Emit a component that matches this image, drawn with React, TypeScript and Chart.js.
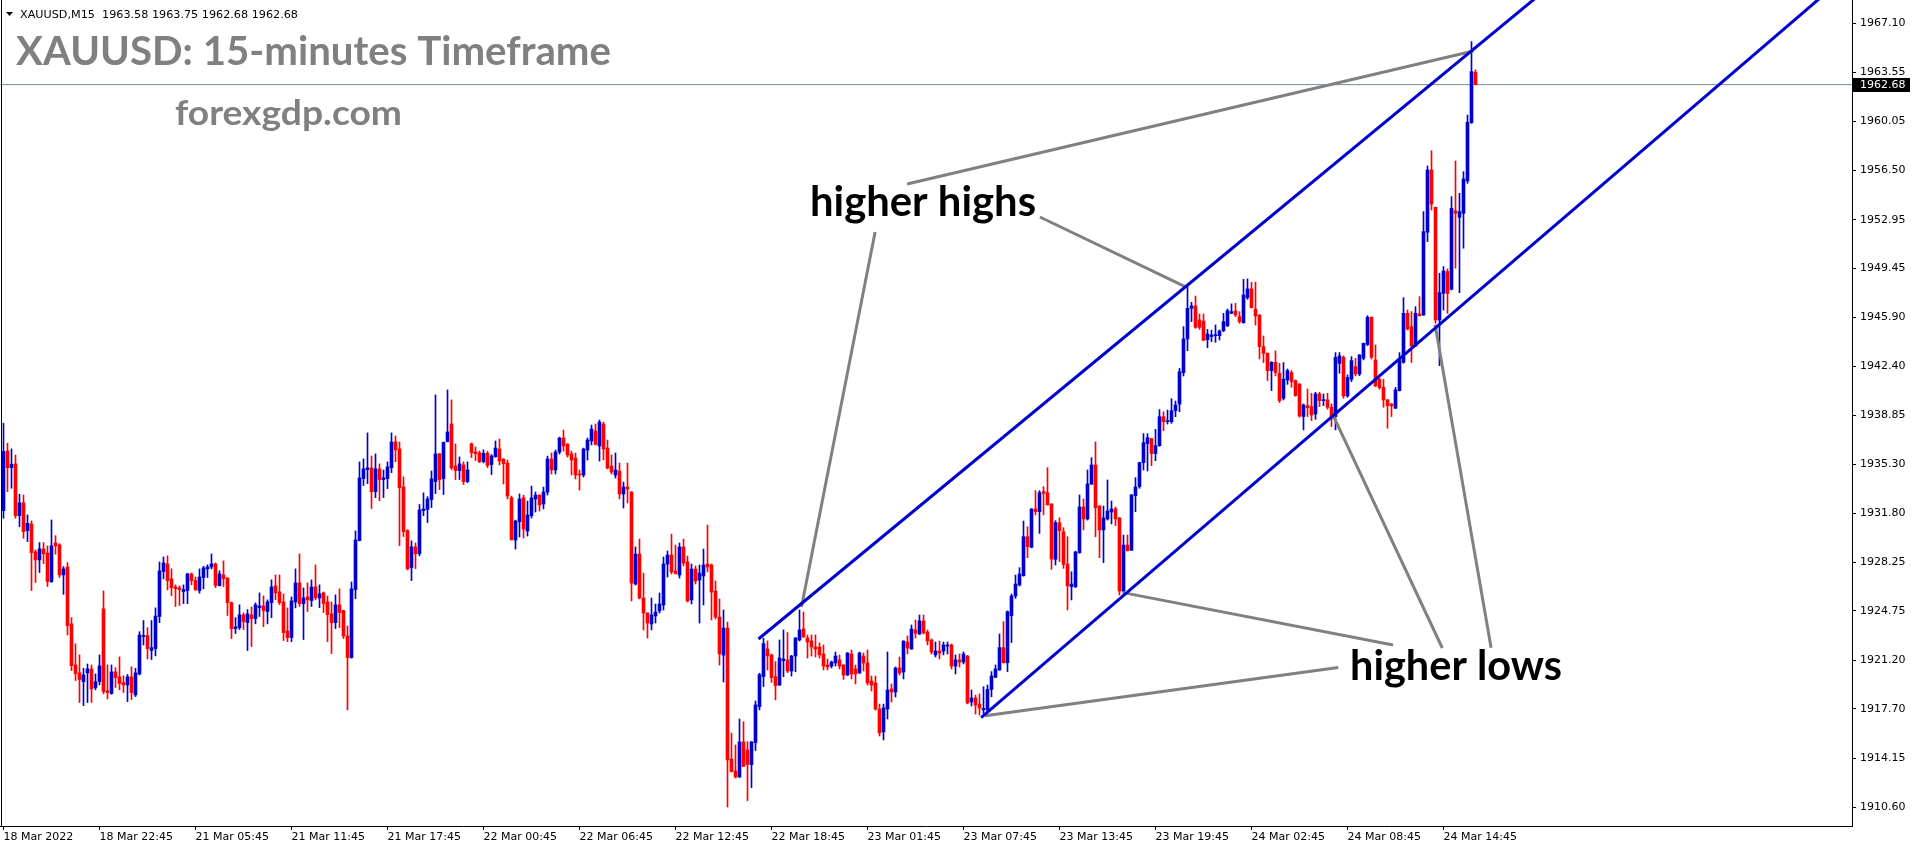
import React, { useEffect, useRef } from "react";
import { Chart, registerables } from "chart.js";

Chart.register(...registerables);

// ---------- DATA (XAUUSD M15) ----------
const OPEN = [
  1931.98,1936.28,1935.08,1935.35,1931.62,1932.54,1930.54,1931.02,1929.01,1928.43,
  1929.22,1928.93,1926.87,1929.65,1929.51,1927.35,1927.92,1923.82,1920.86,1920.29,
  1919.66,1920.29,1920.57,1919.23,1919.66,1924.90,1918.99,1918.80,1920.36,1920.00,
  1919.59,1919.42,1920.00,1918.70,1920.21,1922.90,1922.98,1921.90,1922.04,1924.35,
  1927.59,1928.14,1927.06,1926.48,1926.41,1926.15,1926.22,1927.42,1926.94,1926.22,
  1927.16,1927.78,1927.92,1928.14,1926.58,1927.35,1927.13,1925.35,1923.48,1923.55,
  1924.47,1923.91,1924.47,1924.20,1924.99,1925.11,1924.71,1925.35,1926.56,1926.12,
  1925.40,1923.31,1922.83,1925.40,1926.77,1925.28,1925.76,1925.50,1926.48,1925.69,
  1926.05,1925.40,1924.54,1923.91,1925.19,1924.78,1922.95,1921.39,1926.29,1929.82,
  1934.29,1934.94,1935.06,1933.35,1934.99,1934.22,1934.29,1935.08,1936.93,1936.43,
  1933.69,1930.54,1927.88,1929.37,1928.88,1931.98,1932.06,1932.78,1934.07,1936.07,
  1934.29,1936.96,1938.23,1935.20,1934.87,1935.27,1934.07,1936.79,1936.21,1936.14,
  1935.51,1936.11,1935.30,1935.87,1936.42,1935.70,1935.41,1932.91,1929.86,1931.18,
  1932.91,1930.51,1931.61,1932.82,1933.10,1932.46,1933.32,1935.70,1934.91,1936.20,
  1937.21,1936.78,1936.06,1935.77,1934.62,1934.55,1936.35,1937.00,1937.72,1936.64,
  1938.22,1936.49,1935.19,1934.55,1934.83,1933.18,1933.68,1933.32,1926.69,1928.85,
  1925.68,1924.60,1923.81,1924.39,1924.75,1925.18,1928.13,1928.78,1927.63,1927.34,
  1929.36,1928.28,1925.54,1927.77,1926.98,1927.27,1928.13,1928.06,1926.19,1924.31,
  1921.57,1923.52,1914.08,1913.22,1912.78,1915.31,1914.73,1913.68,1915.26,1917.86,
  1920.02,1922.01,1921.58,1920.02,1919.41,1921.17,1921.22,1920.42,1921.50,1922.66,
  1923.45,1922.80,1922.59,1922.15,1922.15,1921.65,1920.85,1920.78,1921.00,1921.22,
  1920.85,1920.13,1921.65,1920.57,1920.28,1921.50,1921.00,1919.70,1919.56,1917.68,
  1916.03,1917.68,1919.13,1918.91,1920.64,1920.35,1922.51,1922.01,1923.38,1923.09,
  1924.03,1923.23,1922.66,1921.58,1921.86,1921.86,1922.22,1922.30,1920.78,1921.22,
  1921.07,1921.50,1918.19,1918.48,1918.04,1917.62,1917.61,1919.10,1919.97,1920.50,
  1922.11,1921.02,1924.41,1925.83,1926.62,1927.29,1930.10,1929.34,1932.10,1931.91,
  1933.35,1933.27,1932.46,1928.47,1931.11,1930.46,1928.13,1926.50,1926.50,1928.95,
  1932.24,1931.38,1933.90,1935.27,1932.31,1930.59,1931.38,1931.88,1932.10,1931.45,
  1926.19,1929.50,1929.14,1933.06,1933.71,1935.44,1936.81,1937.17,1936.09,1936.66,
  1938.75,1938.39,1938.39,1939.18,1939.66,1941.92,1944.35,1946.56,1946.73,1945.72,
  1945.64,1944.30,1944.52,1944.59,1944.59,1944.95,1945.31,1946.20,1946.37,1945.96,
  1945.53,1947.33,1947.96,1946.51,1946.08,1943.80,1943.32,1942.07,1942.67,1941.88,
  1940.08,1941.40,1941.93,1941.35,1941.11,1938.76,1939.55,1939.48,1938.95,1940.39,
  1939.91,1939.96,1939.43,1938.76,1942.60,1943.03,1940.25,1941.45,1942.36,1941.83,
  1942.96,1943.95,1945.91,1942.84,1941.45,1940.87,1939.96,1939.67,1939.36,1940.63,
  1942.67,1946.20,1945.24,1943.85,1946.15,1946.08,1952.04,1956.53,1953.84,1945.72,
  1947.64,1949.21,1947.93,1953.58,1953.12,1953.41,1955.74,1959.94,1963.58,
];

const HIGH = [
  1938.28,1936.84,1936.43,1935.99,1933.16,1933.11,1931.67,1931.24,1929.15,1929.68,
  1929.68,1929.44,1931.31,1930.18,1929.60,1927.95,1928.24,1924.27,1922.38,1921.58,
  1920.62,1920.93,1920.86,1920.21,1921.58,1926.19,1920.86,1920.86,1920.67,1921.44,
  1920.07,1920.17,1920.72,1920.62,1923.26,1924.06,1923.55,1924.06,1924.97,1928.28,
  1928.64,1928.72,1927.78,1926.63,1926.56,1926.63,1927.47,1927.49,1927.20,1927.78,
  1927.97,1928.07,1928.86,1928.21,1927.64,1928.36,1927.15,1925.40,1924.27,1925.19,
  1924.61,1924.85,1925.04,1925.33,1926.05,1925.83,1925.55,1926.99,1927.35,1927.35,
  1925.98,1924.97,1925.76,1927.78,1928.86,1926.41,1926.77,1926.99,1928.07,1926.63,
  1926.12,1925.83,1925.40,1925.91,1926.34,1924.80,1923.67,1926.84,1930.52,1935.49,
  1935.71,1937.58,1935.92,1936.07,1935.35,1934.91,1935.49,1937.58,1937.36,1936.93,
  1934.41,1930.61,1929.80,1929.65,1932.42,1933.26,1932.99,1934.84,1940.32,1936.10,
  1936.93,1940.68,1939.96,1936.79,1935.85,1935.49,1935.49,1936.86,1936.57,1936.28,
  1936.36,1936.26,1936.02,1937.00,1937.14,1935.72,1935.63,1933.03,1931.30,1933.18,
  1933.10,1932.67,1933.75,1933.32,1933.12,1933.68,1935.91,1936.13,1936.35,1937.28,
  1937.79,1936.80,1936.27,1936.13,1934.91,1936.49,1937.21,1938.15,1938.22,1938.51,
  1938.36,1937.07,1935.99,1936.13,1935.41,1934.04,1935.41,1933.35,1929.36,1929.93,
  1927.48,1924.62,1925.68,1925.25,1926.04,1928.64,1929.07,1930.29,1929.50,1929.65,
  1929.93,1928.71,1928.13,1927.99,1928.06,1929.21,1930.94,1928.13,1926.91,1925.61,
  1924.82,1923.95,1915.95,1915.09,1916.96,1916.77,1915.33,1915.35,1918.26,1920.26,
  1922.78,1922.59,1921.65,1921.10,1922.66,1923.38,1923.19,1921.55,1922.83,1924.82,
  1924.67,1923.02,1923.02,1923.02,1922.44,1922.30,1921.29,1921.14,1921.79,1921.58,
  1920.88,1921.75,1921.94,1920.85,1921.79,1921.72,1921.94,1920.06,1920.06,1918.04,
  1918.04,1921.79,1919.49,1920.71,1921.43,1922.60,1922.95,1923.74,1924.10,1924.46,
  1924.46,1923.38,1922.73,1922.51,1922.58,1922.51,1922.51,1922.37,1921.58,1921.65,
  1921.79,1921.55,1919.05,1918.69,1918.77,1919.29,1919.41,1920.38,1920.86,1923.09,
  1923.98,1924.75,1925.97,1927.34,1927.87,1931.23,1930.82,1932.12,1933.42,1933.42,
  1933.71,1935.08,1932.48,1931.26,1931.47,1930.75,1930.10,1927.58,1929.06,1933.11,
  1932.82,1934.91,1935.80,1936.93,1932.35,1932.31,1934.19,1932.67,1932.24,1931.50,
  1930.22,1930.22,1933.15,1934.36,1935.47,1937.53,1937.53,1937.20,1937.84,1939.26,
  1939.11,1939.23,1940.05,1939.88,1942.23,1945.24,1948.17,1946.99,1947.45,1946.15,
  1946.15,1945.04,1944.99,1945.36,1945.00,1946.20,1946.51,1946.88,1946.92,1946.32,
  1948.65,1948.68,1948.44,1948.44,1946.10,1944.57,1943.35,1942.72,1943.49,1942.60,
  1942.65,1942.19,1942.07,1941.40,1941.13,1939.67,1940.75,1940.44,1940.51,1940.51,
  1940.39,1940.44,1939.67,1943.37,1943.37,1943.13,1941.76,1943.08,1942.96,1943.22,
  1944.06,1946.03,1945.95,1943.92,1941.52,1941.45,1940.00,1939.70,1940.87,1943.37,
  1947.33,1946.44,1946.32,1946.68,1947.40,1953.53,1956.82,1957.92,1953.86,1949.09,
  1949.57,1949.40,1954.61,1957.18,1954.85,1956.41,1960.49,1965.78,1963.75,
];

const LOW = [
  1931.43,1933.35,1933.59,1931.43,1930.83,1929.99,1929.75,1926.22,1926.80,1927.52,
  1928.16,1926.51,1926.80,1928.84,1927.16,1925.95,1923.02,1920.45,1919.73,1918.15,
  1917.93,1918.15,1918.15,1919.06,1919.42,1918.77,1918.41,1918.75,1919.23,1919.06,
  1918.87,1918.22,1918.36,1918.58,1920.14,1922.30,1921.29,1921.25,1921.51,1923.91,
  1927.06,1926.27,1925.86,1925.07,1925.14,1925.28,1925.28,1926.63,1926.22,1926.03,
  1926.34,1927.16,1927.78,1926.43,1926.55,1926.51,1924.42,1922.76,1923.12,1923.41,
  1923.41,1921.90,1922.18,1923.82,1924.35,1923.62,1923.82,1924.27,1925.55,1925.21,
  1922.62,1922.54,1922.54,1924.97,1925.07,1922.69,1924.71,1925.07,1925.55,1924.99,
  1924.63,1922.54,1921.68,1923.48,1923.55,1922.76,1917.62,1921.35,1925.64,1929.80,
  1933.79,1933.93,1932.13,1932.92,1932.70,1932.92,1933.57,1934.72,1935.51,1929.46,
  1930.11,1927.71,1926.94,1927.80,1928.72,1931.62,1931.12,1932.20,1933.21,1933.50,
  1933.14,1936.93,1934.94,1934.22,1934.22,1933.86,1934.00,1935.80,1935.59,1935.44,
  1935.42,1935.08,1934.58,1935.82,1935.27,1933.90,1932.82,1929.86,1929.21,1930.08,
  1930.01,1930.15,1931.45,1931.88,1931.95,1932.10,1933.10,1934.62,1934.62,1936.06,
  1936.27,1935.84,1934.55,1934.26,1933.46,1934.40,1935.63,1936.71,1936.71,1935.55,
  1935.63,1934.98,1934.62,1934.33,1932.82,1932.17,1932.53,1925.47,1926.62,1925.61,
  1923.38,1922.80,1923.38,1923.88,1924.60,1924.82,1927.20,1927.41,1927.41,1927.12,
  1927.99,1925.39,1925.25,1926.69,1923.88,1925.18,1927.56,1924.10,1924.17,1920.85,
  1919.63,1910.62,1913.14,1912.71,1912.75,1913.53,1911.08,1912.02,1914.69,1917.62,
  1919.30,1920.50,1919.60,1918.34,1919.38,1920.01,1920.30,1920.06,1920.37,1922.59,
  1922.85,1921.36,1921.50,1921.43,1921.36,1920.50,1920.50,1920.64,1920.78,1920.57,
  1919.82,1920.10,1919.85,1919.49,1920.25,1920.42,1919.41,1918.98,1917.60,1915.74,
  1915.45,1916.96,1918.19,1918.55,1920.13,1919.85,1921.65,1921.98,1922.80,1923.05,
  1923.09,1922.30,1921.65,1921.43,1921.29,1921.58,1921.65,1920.57,1920.21,1920.71,
  1920.93,1918.05,1917.90,1917.32,1917.25,1917.37,1917.58,1918.57,1919.94,1920.47,
  1921.00,1920.38,1922.47,1925.66,1926.55,1927.25,1928.59,1929.30,1931.67,1930.34,
  1931.67,1932.38,1927.75,1928.06,1928.30,1927.82,1924.82,1925.54,1926.43,1928.90,
  1930.59,1931.30,1933.85,1930.10,1928.59,1928.23,1931.30,1931.02,1930.90,1925.90,
  1926.02,1929.06,1929.10,1931.91,1933.59,1934.91,1934.84,1935.22,1935.58,1936.62,
  1937.74,1938.22,1938.27,1938.75,1939.11,1941.68,1943.51,1945.60,1945.12,1945.04,
  1944.23,1943.72,1944.16,1944.11,1944.28,1944.88,1945.24,1946.18,1945.96,1945.48,
  1945.48,1947.21,1946.58,1945.36,1942.91,1942.65,1941.35,1940.63,1941.69,1939.77,
  1939.96,1941.08,1940.87,1940.22,1938.71,1937.80,1938.76,1938.47,1938.56,1939.48,
  1939.55,1939.29,1938.04,1937.80,1941.88,1940.08,1940.15,1941.28,1941.69,1941.71,
  1942.84,1943.87,1942.91,1940.92,1940.73,1939.43,1937.92,1938.76,1939.33,1940.60,
  1942.60,1945.00,1942.65,1943.80,1946.00,1946.05,1951.37,1953.65,1945.48,1942.43,
  1946.44,1946.20,1947.88,1949.45,1947.69,1950.89,1955.57,1959.89,1962.68,
];

const CLOSE = [
  1936.24,1935.08,1935.32,1931.62,1932.54,1930.47,1931.07,1928.96,1928.43,1929.22,
  1928.88,1926.87,1929.44,1929.44,1927.35,1927.78,1923.70,1920.81,1920.24,1919.81,
  1920.14,1920.57,1919.13,1919.64,1920.79,1918.94,1918.87,1920.36,1919.95,1919.52,
  1919.42,1920.00,1918.87,1920.29,1923.02,1922.98,1922.04,1922.11,1924.39,1927.64,
  1928.21,1926.94,1926.43,1926.36,1926.29,1926.29,1927.42,1926.94,1926.29,1927.20,
  1927.85,1927.92,1928.14,1926.58,1927.42,1927.08,1925.35,1923.48,1923.60,1924.47,
  1923.99,1924.54,1924.20,1925.19,1925.11,1924.78,1925.40,1926.48,1926.05,1925.35,
  1923.19,1922.83,1925.47,1926.77,1925.28,1925.69,1925.55,1926.48,1925.69,1925.98,
  1925.28,1924.49,1923.91,1925.19,1924.63,1922.95,1921.39,1926.34,1929.87,1934.34,
  1934.99,1935.06,1933.35,1934.99,1934.22,1934.34,1935.13,1936.93,1936.36,1933.64,
  1930.47,1927.78,1929.37,1928.88,1932.03,1932.10,1932.82,1934.27,1936.07,1934.22,
  1936.90,1937.65,1935.06,1934.87,1935.35,1934.07,1934.91,1936.16,1936.09,1935.51,
  1936.11,1935.23,1935.92,1936.49,1935.55,1935.36,1933.03,1929.88,1931.23,1932.82,
  1930.65,1931.66,1932.89,1933.10,1932.38,1933.32,1935.70,1934.91,1936.20,1937.21,
  1936.64,1935.99,1935.63,1934.55,1934.55,1936.42,1937.07,1937.86,1936.75,1938.36,
  1936.42,1935.05,1934.76,1934.91,1933.18,1933.68,1933.54,1926.76,1928.85,1925.68,
  1924.60,1923.88,1924.46,1924.67,1925.25,1928.13,1928.78,1927.56,1927.45,1929.36,
  1928.20,1925.47,1927.77,1926.91,1927.48,1928.06,1927.92,1926.11,1924.31,1921.65,
  1923.52,1914.01,1913.18,1912.78,1915.31,1913.55,1913.68,1915.31,1917.98,1920.16,
  1922.40,1921.51,1919.95,1919.37,1921.36,1921.29,1920.42,1921.50,1922.80,1923.38,
  1922.87,1922.51,1922.15,1922.01,1921.58,1920.78,1920.71,1921.07,1921.50,1920.78,
  1920.13,1921.72,1920.21,1920.21,1921.72,1921.00,1919.56,1919.41,1917.68,1915.96,
  1917.76,1919.05,1918.91,1920.64,1920.28,1922.58,1922.08,1923.45,1923.16,1924.03,
  1923.16,1922.59,1921.79,1921.86,1921.72,1922.30,1922.30,1920.78,1921.22,1921.07,
  1921.65,1918.12,1918.48,1917.97,1917.76,1917.73,1919.10,1920.06,1920.57,1922.11,
  1921.02,1924.70,1925.83,1926.69,1927.41,1930.10,1929.38,1932.10,1931.91,1933.27,
  1933.23,1932.39,1928.49,1931.11,1930.54,1928.11,1926.57,1926.69,1929.00,1932.24,
  1931.38,1933.90,1935.27,1932.19,1930.59,1931.45,1931.95,1932.10,1931.38,1926.19,
  1929.50,1929.10,1933.11,1933.68,1935.44,1936.88,1937.24,1936.09,1936.66,1938.75,
  1938.39,1938.46,1939.18,1939.59,1941.99,1944.35,1946.56,1946.73,1945.19,1945.19,
  1944.25,1944.71,1944.64,1944.64,1944.92,1945.60,1946.39,1946.32,1946.08,1945.60,
  1947.52,1947.96,1946.61,1946.01,1943.80,1943.32,1942.07,1942.67,1941.93,1939.91,
  1941.45,1942.07,1941.28,1940.27,1938.80,1939.60,1939.40,1938.88,1940.39,1939.91,
  1939.96,1939.43,1938.64,1943.03,1943.13,1940.25,1941.57,1942.79,1941.83,1943.20,
  1944.04,1945.91,1943.03,1940.97,1940.85,1939.96,1939.55,1939.53,1940.68,1942.79,
  1946.20,1945.07,1943.85,1946.20,1946.03,1952.09,1956.53,1954.08,1945.72,1947.69,
  1949.25,1947.64,1953.77,1953.41,1953.53,1955.88,1959.97,1963.62,1962.68,
];

// x-axis labels: one every 24 bars
const X_TICK_INDEX = [0, 24, 48, 72, 96, 120, 144, 168, 192, 216, 240, 264, 288, 312, 336, 360];
const X_TICK_LABELS = [
  "18 Mar 2022", "18 Mar 22:45", "21 Mar 05:45", "21 Mar 11:45", "21 Mar 17:45",
  "22 Mar 00:45", "22 Mar 06:45", "22 Mar 12:45", "22 Mar 18:45", "23 Mar 01:45",
  "23 Mar 07:45", "23 Mar 13:45", "23 Mar 19:45", "24 Mar 02:45", "24 Mar 08:45",
  "24 Mar 14:45",
];
const Y_TICKS = [
  1910.60, 1914.15, 1917.70, 1921.20, 1924.75, 1928.25, 1931.80, 1935.30, 1938.85,
  1942.40, 1945.90, 1949.45, 1952.95, 1956.50, 1960.05, 1963.55, 1967.10,
];
const LAST_PRICE = 1962.68;

// drawn objects (bar index, price)
const UPPER_CHANNEL = [{ x: 188.75, y: 1922.73 }, { x: 400, y: 1972.96 }];
const LOWER_CHANNEL = [{ x: 244.4, y: 1917.07 }, { x: 470, y: 1972.84 }];
const POINTER_LINES = [
  [{ x: 225.9, y: 1955.52 }, { x: 367.5, y: 1965.1 }],
  [{ x: 259.1, y: 1953.14 }, { x: 295.4, y: 1948.13 }],
  [{ x: 217.9, y: 1952.06 }, { x: 199.5, y: 1925.03 }],
  [{ x: 279.9, y: 1926.07 }, { x: 347.4, y: 1922.3 }],
  [{ x: 245.4, y: 1917.2 }, { x: 333.7, y: 1920.67 }],
  [{ x: 332.4, y: 1938.84 }, { x: 359.7, y: 1922.08 }],
  [{ x: 357.9, y: 1945.37 }, { x: 371.9, y: 1922.09 }],
];

const INFO_TEXT = "XAUUSD,M15  1963.58 1963.75 1962.68 1962.68";
const TITLE = "XAUUSD: 15-minutes Timeframe";
const SITE = "forexgdp.com";
const HH_TEXT = "higher highs";
const HL_TEXT = "higher lows";

const BULL = "#0000CD";
const BEAR = "#FF0000";
const CHANNEL = "#0000CD";
const POINTER = "#808080";

const X_MIN = -0.875;
const X_MAX = X_MIN + 1852 / 4;
const Y_MIN = 1909.252;
const Y_MAX = 1968.78;

function drawFitted(ctx: CanvasRenderingContext2D, text: string, x: number, baseline: number, width: number, font: string, color: string) {
  ctx.save();
  ctx.font = font;
  ctx.fillStyle = color;
  ctx.textAlign = "left";
  ctx.textBaseline = "alphabetic";
  const w = ctx.measureText(text).width || 1;
  ctx.translate(x, baseline);
  ctx.scale(width / w, 1);
  ctx.fillText(text, 0, 0);
  ctx.restore();
}

const overlayPlugin = {
  id: "overlay",
  afterDraw(chart: any) {
    const { ctx, chartArea: a, scales } = chart;
    ctx.save();
    // chart frame (left side)
    ctx.strokeStyle = "#000";
    ctx.lineWidth = 1;
    ctx.beginPath();
    ctx.moveTo(1.5, a.bottom);
    ctx.lineTo(1.5, a.top);
    ctx.stroke();

    // current price box on the axis
    const py = scales.y.getPixelForValue(LAST_PRICE);
    ctx.fillStyle = "#000";
    ctx.fillRect(a.right + 1, Math.round(py) - 7, 57, 14);
    ctx.fillStyle = "#fff";
    ctx.font = '11px "DejaVu Sans"';
    ctx.textBaseline = "middle";
    ctx.textAlign = "left";
    ctx.fillText(LAST_PRICE.toFixed(2), a.right + 8, py);

    // info line
    ctx.fillStyle = "#000";
    ctx.beginPath();
    ctx.moveTo(6, 12);
    ctx.lineTo(13, 12);
    ctx.lineTo(9.5, 16);
    ctx.closePath();
    ctx.fill();
    ctx.restore();
    drawFitted(ctx, INFO_TEXT, 20, 18, 278, '11px "DejaVu Sans"', "#000");

    drawFitted(ctx, TITLE, 16, 65, 595, "bold 40px Lato", "#808080");
    drawFitted(ctx, SITE, 175, 125, 227, "bold 34px Lato", "#808080");
    drawFitted(ctx, HH_TEXT, 810, 216, 226, "bold 42px Lato", "#000");
    drawFitted(ctx, HL_TEXT, 1350, 680, 212, "bold 42px Lato", "#000");
  },
};

export default function App() {
  const ref = useRef<HTMLCanvasElement>(null);

  useEffect(() => {
    document.body.style.margin = "0";
    document.body.style.background = "#fff";
    const canvas = ref.current;
    if (!canvas) return;

    const idx = CLOSE.map((_, i) => i);
    const colors = idx.map((i) => (CLOSE[i] >= OPEN[i] ? BULL : BEAR));

    const lineDs = (pts: { x: number; y: number }[], color: string, width: number, order: number) => ({
      type: "line" as const,
      data: pts,
      borderColor: color,
      backgroundColor: color,
      borderWidth: width,
      pointRadius: 0,
      fill: false,
      tension: 0,
      order,
    });

    const chart = new Chart(canvas, {
      type: "bar",
      data: {
        datasets: [
          lineDs([{ x: X_MIN, y: LAST_PRICE }, { x: X_MAX, y: LAST_PRICE }], "#778899", 1, 10) as any,
          {
            label: "wick",
            data: idx.map((i) => ({ x: i, y: [Math.min(LOW[i], OPEN[i], CLOSE[i]), Math.max(HIGH[i], OPEN[i], CLOSE[i])] })) as any,
            backgroundColor: colors,
            barThickness: 1,
            grouped: false,
            borderWidth: 0,
            order: 3,
          },
          {
            label: "body",
            data: idx.map((i) => ({ x: i, y: [OPEN[i], CLOSE[i]] })) as any,
            backgroundColor: colors,
            barThickness: 3,
            minBarLength: 1,
            grouped: false,
            borderWidth: 0,
            order: 2,
          },
          lineDs(UPPER_CHANNEL, CHANNEL, 3, 0) as any,
          lineDs(LOWER_CHANNEL, CHANNEL, 3, 0) as any,
          ...POINTER_LINES.map((p) => lineDs(p, POINTER, 3, 0) as any),
        ],
      },
      options: {
        animation: false,
        responsive: false,
        devicePixelRatio: 1,
        events: [],
        layout: { padding: 0 },
        plugins: { legend: { display: false }, tooltip: { enabled: false } },
        scales: {
          x: {
            type: "linear",
            min: X_MIN,
            max: X_MAX,
            offset: false,
            grid: { display: true, drawOnChartArea: false, drawTicks: true, tickLength: 4, tickColor: "#000", offset: false },
            border: { display: true, color: "#000", width: 1 },
            ticks: {
              autoSkip: false,
              maxRotation: 0,
              minRotation: 0,
              align: "start",
              padding: 1,
              color: "#000",
              font: { family: "DejaVu Sans", size: 11 },
              callback: (v: any) => {
                const k = X_TICK_INDEX.indexOf(Number(v));
                return k >= 0 ? X_TICK_LABELS[k] : "";
              },
            },
            afterBuildTicks: (s: any) => {
              s.ticks = X_TICK_INDEX.map((v) => ({ value: v }));
            },
            afterFit: (s: any) => {
              s.height = 24;
              s.paddingLeft = 0;
              s.paddingRight = 0;
              s.paddingTop = 0;
              s.paddingBottom = 0;
            },
          } as any,
          y: {
            type: "linear",
            position: "right",
            min: Y_MIN,
            max: Y_MAX,
            grid: { display: true, drawOnChartArea: false, drawTicks: true, tickLength: 4, tickColor: "#000" },
            border: { display: true, color: "#000", width: 1 },
            ticks: {
              autoSkip: false,
              padding: 4,
              color: "#000",
              font: { family: "DejaVu Sans", size: 11 },
              callback: (v: any) => Number(v).toFixed(2),
            },
            afterBuildTicks: (s: any) => {
              s.ticks = Y_TICKS.map((v) => ({ value: v }));
            },
            afterFit: (s: any) => {
              s.width = 64;
              s.paddingTop = 0;
              s.paddingBottom = 0;
              s.paddingLeft = 0;
              s.paddingRight = 0;
            },
          } as any,
        },
      },
      plugins: [overlayPlugin],
    });

    return () => chart.destroy();
  }, []);

  return (
    <div style={{ width: 1916, height: 850, background: "#fff" }}>
      <canvas ref={ref} width={1916} height={850} style={{ display: "block" }} />
    </div>
  );
}
